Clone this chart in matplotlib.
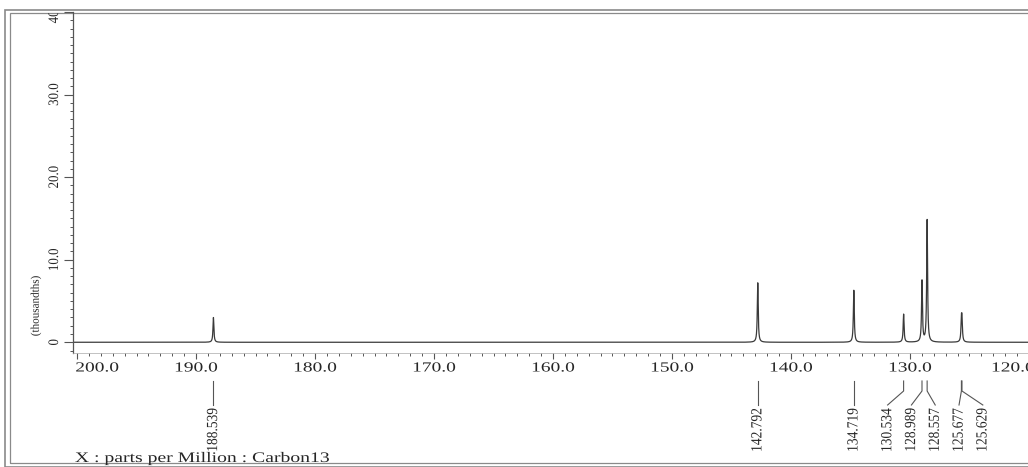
import numpy as np
import matplotlib
matplotlib.use("Agg")
import matplotlib.pyplot as plt
import matplotlib.patheffects as pe
from matplotlib.transforms import Affine2D, blended_transform_factory, Bbox, TransformedBbox, ScaledTranslation
from matplotlib.patches import Rectangle
from matplotlib.ticker import MultipleLocator

# ---------------- data ----------------
peak_ppm = [188.539, 142.792, 134.719, 130.534, 128.989, 128.557, 125.677, 125.629]
peak_height = [3.0, 7.2, 6.3, 3.4, 7.4, 14.8, 2.3, 2.3]   # thousandths
x_ticks = [200, 190, 180, 170, 160, 150, 140, 130, 120]
y_ticks = [0, 10, 20, 30, 40]
y_tick_labels = ["0", "10.0", "20.0", "30.0", "40.0"]
x_title = "X : parts per Million : Carbon13"
y_title = "(thousandths)"

# ---------------- layout helpers ----------------
W, H = 1028, 467
fig = plt.figure(figsize=(W / 100, H / 100), dpi=100)
fig.patch.set_facecolor("white")


def fx(px):
    return px / W


def fy(py):
    return 1 - py / H


class Stretch(pe.AbstractPathEffect):
    """Stretch text glyphs (the reference's text is scaled horizontally on screen)."""

    def __init__(self, sx=1.0, sy=1.0, anchor="center"):
        super().__init__()
        self.sx = sx
        self.sy = sy
        self.anchor = anchor

    def draw_path(self, renderer, gc, tpath, affine, rgbFace=None):
        ext = tpath.get_extents()
        cx = ext.x0 if self.anchor == "left" else (ext.x0 + ext.x1) / 2
        cy = (ext.y0 + ext.y1) / 2
        pre = Affine2D().translate(-cx, -cy).scale(self.sx, self.sy).translate(cx, cy)
        renderer.draw_path(gc, tpath, pre + affine, rgbFace)


SERIF = ["Liberation Serif", "DejaVu Serif"]
TXT = "#262626"
AXC = "#555555"

ax = fig.add_axes([fx(73), fy(353), 1 - fx(73), fy(12) - fy(353)])
ax.set_xlim(200.34, 120.08)
ax.set_ylim(-1.3, 40)
ax.patch.set_alpha(0)

for s in ["top", "right"]:
    ax.spines[s].set_visible(False)
ax.spines["left"].set_color(AXC)
ax.spines["left"].set_linewidth(0.9)
ax.spines["bottom"].set_color("#aaaaaa")
ax.spines["bottom"].set_linewidth(0.5)

ax.xaxis.set_major_locator(MultipleLocator(10))
ax.xaxis.set_minor_locator(MultipleLocator(1))
ax.yaxis.set_major_locator(MultipleLocator(10))
ax.yaxis.set_minor_locator(MultipleLocator(1))
ax.tick_params(axis="both", which="both", direction="out", colors=AXC,
               labelbottom=False, labelleft=False)
ax.tick_params(axis="x", which="major", length=4.3, width=0.8)
ax.tick_params(axis="x", which="minor", length=2.2, width=0.7)
ax.tick_params(axis="y", which="major", length=6.5, width=0.8)
ax.tick_params(axis="y", which="minor", length=2.0, width=0.7)

# ---------------- spectrum ----------------
gamma = 0.045
x = np.linspace(200.34, 120.08, 40000)
y = np.zeros_like(x)
for p, h in zip(peak_ppm, peak_height):
    y += h / (1 + ((x - p) / gamma) ** 2)
ax.plot(x, y, color="#3a3a3a", lw=0.9)

# ---------------- x tick labels ----------------
tx = blended_transform_factory(ax.transData, fig.transFigure)
for v in x_ticks:
    nudge = 0
    if v == max(x_ticks):
        nudge = 20
    elif v == min(x_ticks):
        nudge = -16
    ax.text(v, fy(368), f"{v:.1f}", transform=tx + ScaledTranslation(nudge / 100, 0, fig.dpi_scale_trans),
            ha="center", va="center", fontsize=10, family=SERIF, color=TXT, clip_on=False,
            path_effects=[Stretch(sx=1.4)])

# ---------------- y tick labels ----------------
ty = blended_transform_factory(fig.transFigure, ax.transData)
clipbox = TransformedBbox(Bbox([[0, fy(463)], [1, fy(13)]]), fig.transFigure)
for v, lab in zip(y_ticks, y_tick_labels):
    t = fig.text(fx(54.5), v, lab, transform=ty, rotation=90, ha="center", va="center",
                 fontsize=9.3, family=SERIF, color=TXT, path_effects=[Stretch(sy=1.12)])
    t.set_clip_box(clipbox)
    t.set_clip_on(True)

fig.text(fx(36), fy(306), y_title, rotation=90, ha="center", va="center",
         fontsize=8, family=SERIF, color=TXT, path_effects=[Stretch(sy=1.05)])

# ---------------- peak labels with leaders ----------------
def spread(peaks, gap):
    ps = sorted(peaks, reverse=True)
    groups = [[p] for p in ps]

    def positions(g):
        c = np.mean(g)
        n = len(g)
        return [c + gap * ((n - 1) / 2 - i) for i in range(n)]

    merged = True
    while merged:
        merged = False
        for i in range(len(groups) - 1):
            a, b = positions(groups[i]), positions(groups[i + 1])
            if a[-1] - b[0] < gap:
                groups[i] = groups[i] + groups[i + 1]
                del groups[i + 1]
                merged = True
                break
    out = {}
    for g in groups:
        for p, q in zip(g, positions(g)):
            out[p] = q
    return out


label_pos = spread(peak_ppm, 2.0)
for p in peak_ppm:
    lx = label_pos[p]
    ax.plot([p, p, lx], [fy(381), fy(391), fy(405)], transform=tx, clip_on=False,
            color=AXC, lw=0.8)
    ax.text(lx, fy(408), f"{p:.3f}", transform=tx, rotation=90, ha="center", va="top",
            fontsize=9.7, family=SERIF, color=TXT, clip_on=False,
            path_effects=[Stretch(sy=1.15)])

# ---------------- x title ----------------
fig.text(fx(75), fy(462), x_title, ha="left", va="baseline", fontsize=10.5,
         family=SERIF, color=TXT, path_effects=[Stretch(sx=1.35, anchor="left")])

# ---------------- outer double frame ----------------
for (l, t, b, lw) in [(5, 10, 466.5, 1.2), (9.5, 13, 463, 0.9)]:
    fig.add_artist(Rectangle((fx(l), fy(b)), 1.2, fy(t) - fy(b), transform=fig.transFigure,
                             fill=False, ec="#8a8a8a", lw=lw, zorder=0))

fig.savefig("out.png", dpi=100)
